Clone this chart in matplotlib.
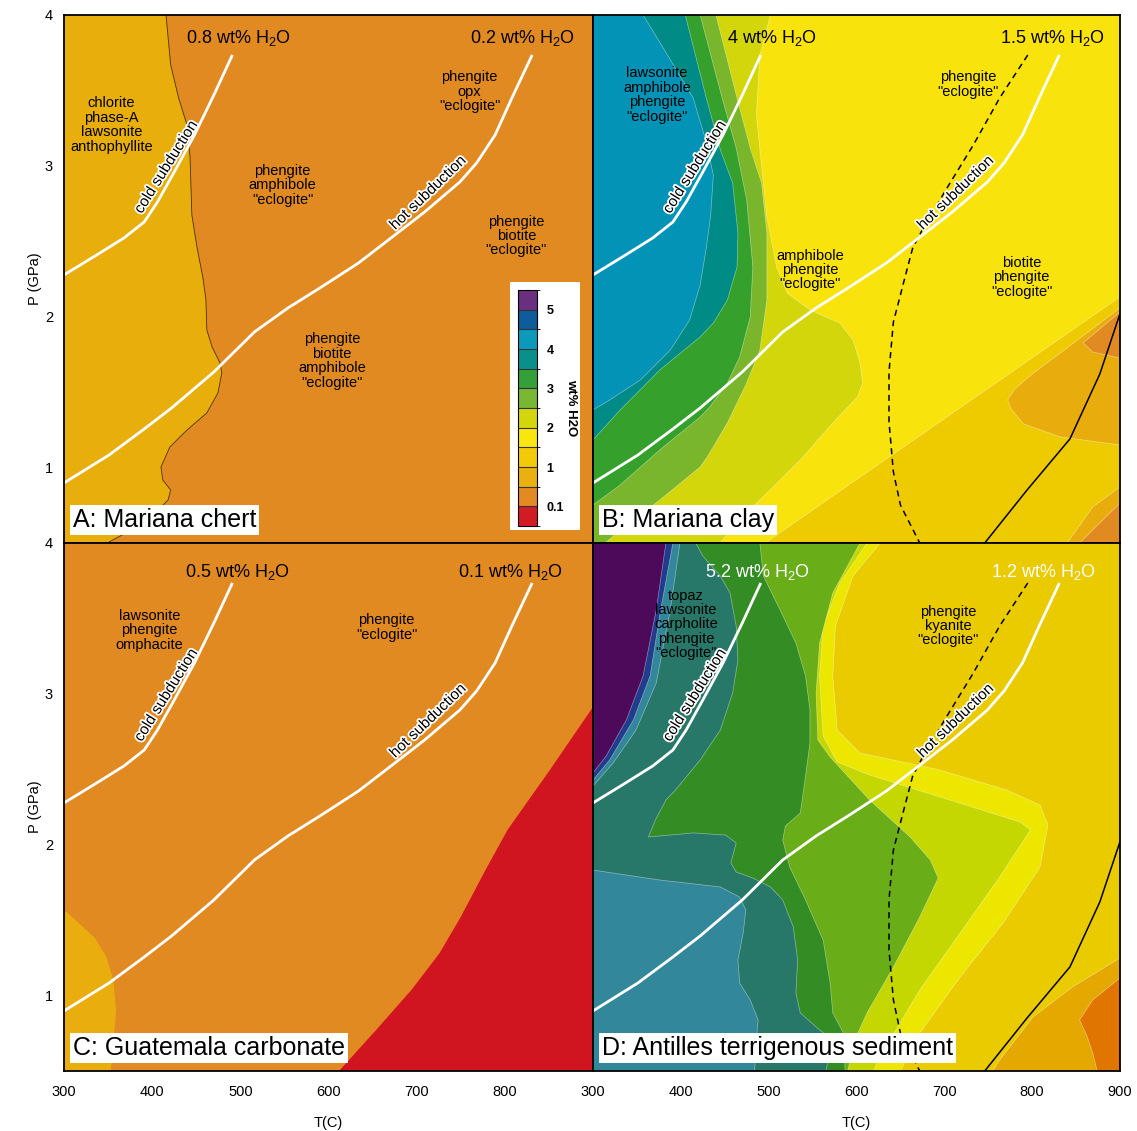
import matplotlib
matplotlib.use("Agg")
import matplotlib as mpl
import matplotlib.pyplot as plt
import matplotlib.patheffects as pe
from matplotlib.colors import ListedColormap, BoundaryNorm
from matplotlib.patches import Rectangle

plt.rcParams['font.family'] = ['Liberation Sans', 'DejaVu Sans']
plt.rcParams['mathtext.fontset'] = 'custom'
plt.rcParams['mathtext.rm'] = 'Liberation Sans'
plt.rcParams['mathtext.it'] = 'Liberation Sans:italic'

# ---------------------------------------------------------------- data
T_LIM = (300, 900)
P_LIM = (0.5, 4.0)

# slab-top P-T paths
COLD_T = [300, 337, 368, 391, 406, 425, 448, 470, 491]
COLD_P = [2.277, 2.409, 2.522, 2.628, 2.76, 2.959, 3.205, 3.47, 3.735]
HOT_T = [300, 351, 391, 422, 470, 516, 554, 592, 634, 668, 709, 749, 768, 789, 808, 831]
HOT_P = [0.898, 1.083, 1.256, 1.395, 1.634, 1.899, 2.058, 2.197, 2.356, 2.509,
         2.694, 2.893, 3.019, 3.205, 3.45, 3.735]

# reaction curves shown on the clay / terrigenous panels
DASH_T = [795, 763, 733, 703, 676, 664, 655, 642, 637, 637, 642, 650, 672]
DASH_P = [3.735, 3.45, 3.138, 2.853, 2.588, 2.456, 2.257, 1.965, 1.634, 1.302, 0.971, 0.752, 0.5]
SOLID_T = [900, 877, 843, 794, 746]
SOLID_P = [2.02, 1.62, 1.19, 0.85, 0.5]

# H2O content classes (wt%) and colour scale
WT_LEVELS = [0, 0.1, 0.5, 1, 1.5, 2, 2.5, 3, 3.5, 4, 4.5, 5, 5.5]
WT_TICKS = [0.1, 1, 2, 3, 4, 5]
WT_COLORS = ['#d31b24', '#e38a24', '#eab10e', '#f2ca08', '#f9e50f', '#d3d60c',
             '#7ab733', '#35a03a', '#0a908b', '#0a9abc', '#0f5c9c', '#6a2f7f']

# A: Mariana chert  (T, P) outlines
A_GOLD_EDGE = [(415.7, 4.0), (421, 3.669), (430, 3.45), (439.5, 3.271), (443, 3.052),
               (445, 2.674), (451, 2.456), (457.6, 2.257), (461, 2.111), (462, 1.912),
               (468, 1.799), (477, 1.693), (479, 1.627), (474.6, 1.495), (462, 1.362),
               (439.5, 1.249), (420, 1.136), (410, 1.004), (412, 0.918), (421, 0.851),
               (418, 0.785), (403, 0.699), (383, 0.607), (349, 0.5)]

# B: Mariana clay
B_GOLDYELLOW = [(900, 2.131), (496, 0.5), (900, 0.5)]
B_GOLD_HI = [(900, 2.058), (832, 1.759), (800, 1.62), (780, 1.52), (772, 1.448),
             (776, 1.39), (790, 1.29), (832, 1.203), (900, 1.150)]
B_ORANGE_HI = [(900, 2.031), (862, 1.846), (858, 1.826), (869, 1.766), (900, 1.726)]
B_GOLD_LO = [(840, 0.5), (869, 0.739), (900, 0.871), (900, 0.5)]
B_ORANGE_LO = [(854, 0.5), (892, 0.719), (900, 0.765), (900, 0.5)]
B_YG = [(300, 4), (502, 4), (490, 3.735), (486, 3.337), (490, 3.105), (498, 2.661),
        (509, 2.330), (521, 2.157), (547, 2.045), (581, 1.958), (596, 1.846),
        (604, 1.693), (607, 1.561), (601, 1.468), (573, 1.296), (536, 1.050),
        (498, 0.832), (459, 0.606), (445, 0.5), (300, 0.5)]
B_LGREEN = [(300, 4), (440, 4), (464, 3.45), (479, 3.118), (492, 2.886), (498, 2.555),
            (498, 2.111), (490, 1.779), (475, 1.561), (453, 1.296), (430, 1.070),
            (422, 1.004), (376, 0.785), (331, 0.586), (314, 0.5), (300, 0.5)]
B_GREEN = [(300, 4), (422, 4), (447, 3.45), (463, 3.118), (475, 2.774), (482, 2.330),
           (479, 1.998), (467, 1.733), (453, 1.561), (433, 1.402), (422, 1.335),
           (376, 1.117), (331, 0.885), (300, 0.752)]
B_TEAL = [(300, 4), (405, 4), (429, 3.45), (445, 3.105), (459, 2.886), (465, 2.555),
          (464, 2.330), (453, 2.111), (437, 1.958), (422, 1.866), (376, 1.647),
          (331, 1.382), (300, 1.183)]
B_CYAN = [(300, 4), (357, 4), (380, 3.781), (414, 3.450), (429, 3.158), (437, 2.939),
          (434, 2.674), (429, 2.456), (422, 2.210), (410, 1.978), (388, 1.779),
          (354, 1.581), (319, 1.448), (300, 1.382)]

# C: Guatemala carbonate
C_GOLD = [(300, 1.56), (303, 1.554), (335, 1.382), (348, 1.256), (356, 1.103),
          (359, 0.904), (356, 0.686), (353, 0.5), (300, 0.5)]
C_RED = [(900, 2.913), (851, 2.495), (803, 2.098), (778, 1.832), (750, 1.521),
         (726, 1.282), (694, 1.037), (654, 0.772), (613, 0.507), (611, 0.5), (900, 0.5)]

# D: Antilles terrigenous sediment
D_GOLD = [(900, 1.249), (846, 1.057), (801, 0.858), (763, 0.573), (755, 0.5), (900, 0.5)]
D_ORANGE = [(900, 1.117), (869, 0.971), (854, 0.838), (862, 0.739), (869, 0.619),
            (874, 0.5), (900, 0.5)]
D_YELLOW = [(300, 4), (627, 4), (596, 3.781), (576, 3.450), (573, 3.118), (578, 2.760),
            (604, 2.608), (695, 2.495), (771, 2.363), (809, 2.263), (818, 2.131),
            (809, 1.852), (767, 1.481), (718, 1.123), (672, 0.752), (650, 0.5), (300, 0.5)]
D_YG = [(300, 4), (612, 4), (581, 3.735), (562, 3.450), (558, 3.118), (562, 2.721),
        (578, 2.548), (615, 2.462), (786, 2.151), (798, 2.098), (763, 1.786),
        (718, 1.415), (672, 1.037), (638, 0.706), (619, 0.5), (300, 0.5)]
D_LGREEN = [(300, 4), (604, 4), (573, 3.669), (558, 3.337), (554, 3.006), (556, 2.694),
            (570, 2.581), (615, 2.296), (661, 2.051), (684, 1.899), (693, 1.779),
            (672, 1.521), (642, 1.189), (612, 0.885), (598, 0.706), (590, 0.5), (300, 0.5)]
D_GREEN = [(300, 4), (490, 4), (494, 3.781), (513, 3.556), (531, 3.337), (542, 3.118),
           (547, 2.893), (547, 2.674), (542, 2.456), (536, 2.210), (519, 2.124),
           (516, 2.031), (524, 1.852), (542, 1.634), (562, 1.368), (570, 1.083),
           (573, 0.885), (585, 0.752), (587, 0.5), (300, 0.5)]
D_TEAL = [(300, 4), (417, 4), (425, 3.914), (445, 3.781), (456, 3.669), (463, 3.450),
          (465, 3.224), (459, 3.006), (445, 2.760), (422, 2.562), (394, 2.363),
          (383, 2.296), (371, 2.164), (363, 2.051), (376, 2.058), (414, 2.078),
          (451, 2.064), (463, 2.011), (457, 1.879), (463, 1.819), (482, 1.779),
          (502, 1.720), (516, 1.634), (528, 1.455), (533, 1.236), (531, 1.017),
          (536, 0.885), (558, 0.772), (573, 0.706), (565, 0.5), (300, 0.5)]
D_STEEL_LO = [(300, 1.832), (376, 1.766), (445, 1.720), (467, 1.653), (474, 1.567),
              (471, 1.415), (465, 1.236), (467, 1.083), (479, 0.971), (488, 0.838),
              (486, 0.706), (484, 0.5), (300, 0.5)]
D_STEEL_HI = [(300, 4), (399, 4), (388, 3.556), (372, 3.072), (349, 2.760),
              (323, 2.542), (300, 2.389)]
D_DKBLUE = [(300, 4), (391, 4), (377, 3.556), (365, 3.118), (346, 2.827),
            (319, 2.562), (300, 2.429)]
D_PURPLE = [(300, 4), (383, 4), (372, 3.556), (357, 3.118), (338, 2.827),
            (315, 2.588), (300, 2.475)]

# fill colours per panel
A_COLORS = {'bg': '#e28a22', 'gold': '#e8ae0c'}
B_COLORS = {'bg': '#f9e30d', 'goldyellow': '#eecb00', 'gold': '#e8ad0c', 'orange': '#e28a22',
            'yg': '#d2d60b', 'lgreen': '#7ab62c', 'green': '#35a02c', 'teal': '#008b86',
            'cyan': '#0393b6'}
C_COLORS = {'bg': '#e28a22', 'gold': '#e9ae0e', 'red': '#d11520'}
D_COLORS = {'bg': '#eacb00', 'gold': '#e5a800', 'orange': '#e07600', 'yellow': '#ede700',
            'yg': '#c5d700', 'lgreen': '#69ad18', 'green': '#338c24', 'teal': '#28786a',
            'steel': '#33879a', 'dkblue': '#213c8c', 'purple': '#4e0a5a'}

# annotations
WT_NOTES = {
    'A': [(498, 3.85, '0.8 wt% H$_2$O'), (820, 3.85, '0.2 wt% H$_2$O')],
    'B': [(504, 3.85, '4 wt% H$_2$O'), (823, 3.85, '1.5 wt% H$_2$O')],
    'C': [(497, 3.81, '0.5 wt% H$_2$O'), (806, 3.81, '0.1 wt% H$_2$O')],
    'D': [(487, 3.81, '5.2 wt% H$_2$O'), (813, 3.81, '1.2 wt% H$_2$O')],
}
WT_NOTE_COLOR = {'A': 'black', 'B': 'black', 'C': 'black', 'D': 'white'}
MINERAL_NOTES = {
    'A': [(354, 3.27, 'chlorite\nphase-A\nlawsonite\nanthophyllite'),
          (548, 2.87, 'phengite\namphibole\n"eclogite"'),
          (760, 3.49, 'phengite\nopx\n"eclogite"'),
          (813, 2.535, 'phengite\nbiotite\n"eclogite"'),
          (604, 1.707, 'phengite\nbiotite\namphibole\n"eclogite"')],
    'B': [(373, 3.47, 'lawsonite\namphibole\nphengite\n"eclogite"'),
          (727, 3.54, 'phengite\n"eclogite"'),
          (547, 2.31, 'amphibole\nphengite\n"eclogite"'),
          (788, 2.26, 'biotite\nphengite\n"eclogite"')],
    'C': [(397, 3.42, 'lawsonite\nphengite\nomphacite'),
          (666, 3.44, 'phengite\n"eclogite"')],
    'D': [(406, 3.46, 'topaz\nlawsonite\ncarpholite\nphengite\n"eclogite"'),
          (704, 3.45, 'phengite\nkyanite\n"eclogite"')],
}
PANEL_TITLES = {'A': 'A: Mariana chert', 'B': 'B: Mariana clay',
                'C': 'C: Guatemala carbonate', 'D': 'D: Antilles terrigenous sediment'}
COLD_LABEL_AT = (416, 2.99)
HOT_LABEL_AT = (713, 2.82)

# ---------------------------------------------------------------- figure
W, H = 1137, 1131
fig = plt.figure(figsize=(W / 100, H / 100), dpi=100)
fig.patch.set_facecolor('white')

def add_panel(x0, y0, w, h):
    return fig.add_axes([x0 / W, 1 - (y0 + h) / H, w / W, h / H])

axA = add_panel(64, 15, 529, 528)
axB = add_panel(593, 15, 527, 528)
axC = add_panel(64, 543, 529, 528)
axD = add_panel(593, 543, 527, 528)
panels = {'A': axA, 'B': axB, 'C': axC, 'D': axD}

EDGE = (1, 1, 1, 0.45)


def region(ax, pts, color, edge=EDGE, lw=0.5):
    ax.fill([p[0] for p in pts], [p[1] for p in pts], facecolor=color,
            edgecolor=edge, linewidth=lw, zorder=1)

# A
axA.set_facecolor(A_COLORS['bg'])
region(axA, [(300, 4.0)] + A_GOLD_EDGE + [(300, 0.5)], A_COLORS['gold'], edge='none')
axA.plot([p[0] for p in A_GOLD_EDGE], [p[1] for p in A_GOLD_EDGE], color='#4a3200',
         lw=0.6, zorder=1.5)

# B
axB.set_facecolor(B_COLORS['bg'])
region(axB, B_GOLDYELLOW, B_COLORS['goldyellow'])
region(axB, B_GOLD_HI, B_COLORS['gold'])
region(axB, B_ORANGE_HI, B_COLORS['orange'])
region(axB, B_GOLD_LO, B_COLORS['gold'])
region(axB, B_ORANGE_LO, B_COLORS['orange'])
region(axB, B_YG, B_COLORS['yg'])
region(axB, B_LGREEN, B_COLORS['lgreen'])
region(axB, B_GREEN, B_COLORS['green'])
region(axB, B_TEAL, B_COLORS['teal'])
region(axB, B_CYAN, B_COLORS['cyan'])

# C
axC.set_facecolor(C_COLORS['bg'])
region(axC, C_GOLD, C_COLORS['gold'], edge='none')
region(axC, C_RED, C_COLORS['red'], edge='none')

# D
axD.set_facecolor(D_COLORS['bg'])
region(axD, D_GOLD, D_COLORS['gold'])
region(axD, D_ORANGE, D_COLORS['orange'])
region(axD, D_YELLOW, D_COLORS['yellow'])
region(axD, D_YG, D_COLORS['yg'])
region(axD, D_LGREEN, D_COLORS['lgreen'])
region(axD, D_GREEN, D_COLORS['green'])
region(axD, D_TEAL, D_COLORS['teal'])
region(axD, D_STEEL_LO, D_COLORS['steel'])
region(axD, D_STEEL_HI, D_COLORS['steel'])
region(axD, D_DKBLUE, D_COLORS['dkblue'])
region(axD, D_PURPLE, D_COLORS['purple'])

halo = [pe.withStroke(linewidth=2.6, foreground='white')]

for key, ax in panels.items():
    ax.set_xlim(*T_LIM)
    ax.set_ylim(*P_LIM)
    for s in ax.spines.values():
        s.set_linewidth(1.3)
        s.set_color('black')
        s.set_zorder(6)
    ax.tick_params(length=0, labelsize=10.5)

    if key in ('B', 'D'):
        ax.plot(DASH_T, DASH_P, color='black', lw=1.1, ls=(0, (4, 3)), zorder=3)
        ax.plot(SOLID_T, SOLID_P, color='black', lw=1.1, zorder=3)

    ax.plot(COLD_T, COLD_P, color='white', lw=2.0, zorder=4, solid_capstyle='butt')
    ax.plot(HOT_T, HOT_P, color='white', lw=2.0, zorder=4, solid_capstyle='butt')
    ax.text(*COLD_LABEL_AT, 'cold subduction', rotation=58, rotation_mode='anchor',
            ha='center', va='center', fontsize=11, color='black', path_effects=halo,
            zorder=5)
    ax.text(*HOT_LABEL_AT, 'hot subduction', rotation=44, rotation_mode='anchor',
            ha='center', va='center', fontsize=11, color='black', path_effects=halo,
            zorder=5)

    for t, p, s in WT_NOTES[key]:
        ax.text(t, p, s, ha='center', va='center', fontsize=13,
                color=WT_NOTE_COLOR[key], zorder=5)
    for t, p, s in MINERAL_NOTES[key]:
        ax.text(t, p, s, ha='center', va='center', fontsize=10.5, linespacing=1.04,
                color='black', zorder=5)

    ax.text(0.017, 0.044, PANEL_TITLES[key], transform=ax.transAxes, ha='left',
            va='center', fontsize=18, color='black', zorder=7,
            bbox=dict(boxstyle='square,pad=0.12', facecolor='white', edgecolor='none'))

# axes ticks and labels
for ax in (axA, axB):
    ax.set_xticks([])
for ax in (axB, axD):
    ax.set_yticks([])
for ax in (axA, axC):
    ax.set_yticks([1, 2, 3, 4])
    ax.tick_params(axis='y', pad=8)
    ax.set_ylabel('P (GPa)', fontsize=10.5, labelpad=2)
axC.set_xticks([300, 400, 500, 600, 700, 800])
axD.set_xticks([300, 400, 500, 600, 700, 800, 900])
for ax in (axC, axD):
    ax.tick_params(axis='x', pad=10)
    ax.set_xlabel('T(C)', fontsize=10.5, labelpad=12)

# colour scale inside panel A
axA.add_patch(Rectangle((0.843, 0.025), 0.132, 0.469, transform=axA.transAxes,
                        facecolor='white', edgecolor='none', zorder=6))
cax = fig.add_axes([518 / W, 1 - 526 / H, 19 / W, 236 / H])
cmap = ListedColormap(WT_COLORS)
norm = BoundaryNorm(WT_LEVELS, cmap.N)
cb = fig.colorbar(mpl.cm.ScalarMappable(norm=norm, cmap=cmap), cax=cax,
                  ticks=WT_TICKS, spacing='uniform', drawedges=True)
cb.ax.set_yticklabels(['0.1', '1', '2', '3', '4', '5'], fontweight='bold', fontsize=9)
cb.ax.tick_params(length=0, pad=7)
cb.outline.set_linewidth(0.8)
cb.dividers.set_color('#333333')
cb.dividers.set_linewidth(0.8)
cb.set_label('wt% H2O', rotation=270, fontweight='bold', fontsize=9.5, labelpad=9)

fig.savefig('out.png', dpi=100, facecolor='white')
